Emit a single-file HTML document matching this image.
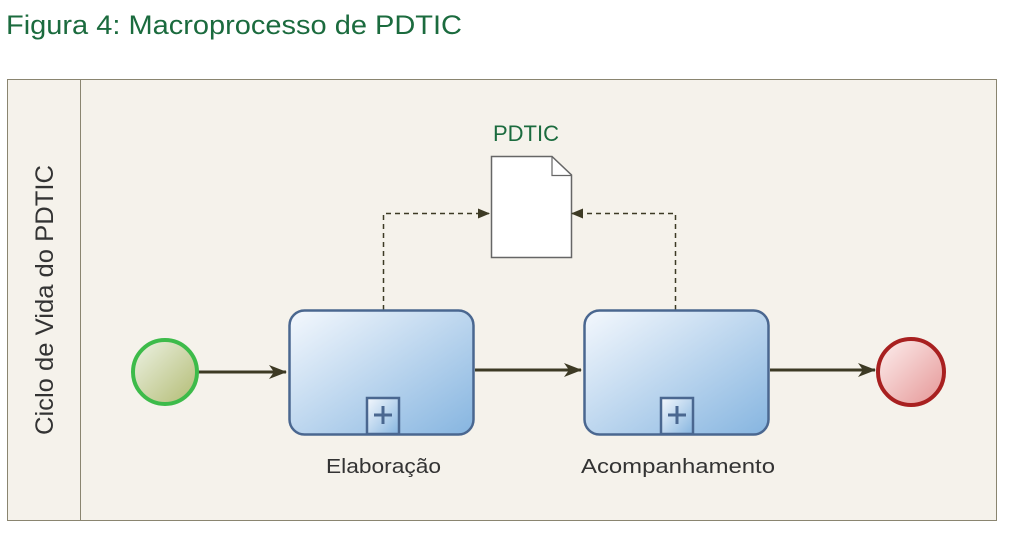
<!DOCTYPE html>
<html><head><meta charset="utf-8"><style>
body{margin:0;background:#fff;width:1014px;height:538px;overflow:hidden;font-family:"Liberation Sans",sans-serif}
</style></head><body>
<svg width="1014" height="538" xmlns="http://www.w3.org/2000/svg">
<defs>
<linearGradient id="tg" x1="0" y1="0" x2="1" y2="1"><stop offset="0" stop-color="#f4f8fd"/><stop offset="1" stop-color="#86b5e0"/></linearGradient>
<linearGradient id="sg" x1="0" y1="0" x2="1" y2="1"><stop offset="0" stop-color="#eef3e6"/><stop offset="1" stop-color="#b2bb72"/></linearGradient>
<linearGradient id="eg" x1="0" y1="0" x2="1" y2="1"><stop offset="0" stop-color="#fdf0ef"/><stop offset="1" stop-color="#e59595"/></linearGradient>
<marker id="ah" markerWidth="18" markerHeight="14" refX="17" refY="7" orient="auto" markerUnits="userSpaceOnUse"><path d="M0,0 L18,7 L0,14 L5,7 Z" fill="#3d3a24"/></marker>
<marker id="sh" markerWidth="12" markerHeight="10" refX="11" refY="5" orient="auto" markerUnits="userSpaceOnUse"><path d="M0,0 L12,5 L0,10 Z" fill="#3d3a24"/></marker>
</defs>
<text x="6" y="34" font-size="27" fill="#1b6b3e" textLength="456" lengthAdjust="spacingAndGlyphs">Figura 4: Macroprocesso de PDTIC</text>
<rect x="7.5" y="79.5" width="989" height="441" fill="#f5f2eb" stroke="#8a8570"/>
<line x1="80.5" y1="79.5" x2="80.5" y2="520.5" stroke="#8a8570"/>
<text transform="translate(53,300) rotate(-90)" text-anchor="middle" font-size="25" fill="#333" textLength="270" lengthAdjust="spacingAndGlyphs">Ciclo de Vida do PDTIC</text>
<text x="526" y="141" text-anchor="middle" font-size="22" fill="#1b6b3e">PDTIC</text>
<path d="M491.5,156.5 H552 L571.5,175 V257.5 H491.5 Z" fill="#fff" stroke="#666" stroke-width="1.5"/>
<path d="M552,156.5 V175.5 H571.5" fill="none" stroke="#666" stroke-width="1.2"/>
<g stroke="#3d3a24" stroke-width="1.5" stroke-dasharray="5,4" fill="none">
<path d="M383.5,310 V213.5 H489" marker-end="url(#sh)"/>
<path d="M675.5,310 V213.5 H572" marker-end="url(#sh)"/>
</g>
<g stroke="#3d3a24" stroke-width="3" fill="none">
<line x1="198" y1="372" x2="286" y2="372" marker-end="url(#ah)"/>
<line x1="475" y1="370" x2="581" y2="370" marker-end="url(#ah)"/>
<line x1="770" y1="370" x2="875" y2="370" marker-end="url(#ah)"/>
</g>
<circle cx="165" cy="372" r="32" fill="url(#sg)" stroke="#3dbb4a" stroke-width="4"/>
<circle cx="911" cy="372" r="33" fill="url(#eg)" stroke="#a82020" stroke-width="4"/>
<g stroke="#4a6790" stroke-width="2.5">
<rect x="289.5" y="310.5" width="184" height="124" rx="15" fill="url(#tg)"/>
<rect x="367" y="398" width="32" height="36" fill="url(#tg)"/>
<rect x="584.5" y="310.5" width="184" height="124" rx="15" fill="url(#tg)"/>
<rect x="661" y="398" width="32" height="36" fill="url(#tg)"/>
</g>
<g stroke="#4a6790" stroke-width="3">
<line x1="374" y1="415" x2="392" y2="415"/><line x1="383" y1="406" x2="383" y2="424"/>
<line x1="668" y1="415" x2="686" y2="415"/><line x1="677" y1="406" x2="677" y2="424"/>
</g>
<text x="326" y="473" font-size="20" fill="#333" textLength="115" lengthAdjust="spacingAndGlyphs">Elaboração</text>
<text x="581" y="473" font-size="20" fill="#333" textLength="194" lengthAdjust="spacingAndGlyphs">Acompanhamento</text>
</svg>
</body></html>
